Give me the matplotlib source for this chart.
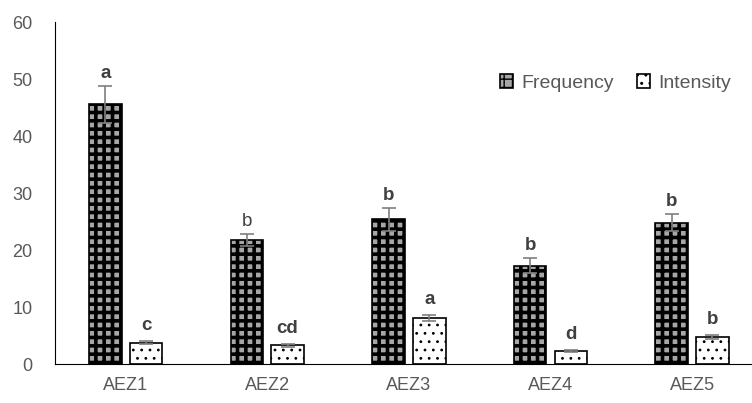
import matplotlib.pyplot as plt
import numpy as np

plt.rcParams['font.family'] = ['Liberation Sans', 'DejaVu Sans']

zones = ['AEZ1', 'AEZ2', 'AEZ3', 'AEZ4', 'AEZ5']
frequency = [45.6, 21.8, 25.4, 17.3, 24.8]
frequency_err = [3.2, 1.0, 2.0, 1.3, 1.5]
intensity = [3.8, 3.3, 8.1, 2.3, 4.8]
intensity_err = [0.3, 0.3, 0.5, 0.2, 0.4]
freq_letters = ['a', 'b', 'b', 'b', 'b']
freq_bold = [True, False, True, True, True]
int_letters = ['c', 'cd', 'a', 'd', 'b']

grey = '#595959'
fig = plt.figure(figsize=(7.52, 4.03), dpi=100)
# the plot area runs slightly past the right edge of the figure, as in the source
ax = fig.add_axes([0.073, 0.096, 0.9415, 0.849])

x = np.arange(len(zones))
w = 0.23
gap = 0.057
xf = x - w / 2 - gap / 2
xi = x + w / 2 + gap / 2

with plt.rc_context({'hatch.linewidth': 2.6}):
    bf = ax.bar(xf, frequency, w, color='#a6a6a6', edgecolor='black', hatch='++',
                linewidth=1.2)
with plt.rc_context({'hatch.linewidth': 0.8}):
    bi = ax.bar(xi, intensity, w, color='white', edgecolor='black', hatch='..',
                linewidth=1.2)

ax.errorbar(xf, frequency, yerr=frequency_err, fmt='none', ecolor='#7f7f7f',
            elinewidth=1.2, capsize=5, capthick=1.2)
ax.errorbar(xi, intensity, yerr=intensity_err, fmt='none', ecolor='#7f7f7f',
            elinewidth=1.2, capsize=5, capthick=1.2)

for i in range(len(zones)):
    ax.annotate(freq_letters[i], (xf[i], frequency[i] + frequency_err[i]),
                xytext=(0, 3), textcoords='offset points', ha='center', va='bottom',
                fontsize=13.5, color='#404040',
                fontweight='bold' if freq_bold[i] else 'normal')
    ax.annotate(int_letters[i], (xi[i], intensity[i] + intensity_err[i]),
                xytext=(0, 5), textcoords='offset points', ha='center', va='bottom',
                fontsize=13.5, color='#404040', fontweight='bold')

ax.set_xlim(-0.5, len(zones) - 0.5)
ax.set_ylim(0, 60)
ax.set_yticks(range(0, 61, 10))
ax.set_xticks(x)
ax.set_xticklabels(zones)
ax.tick_params(length=0, labelsize=13, colors=grey, pad=9)
ax.tick_params(axis='y', pad=16)
ax.spines['top'].set_visible(False)
ax.spines['right'].set_visible(False)

ax.legend([bf, bi], ['Frequency', 'Intensity'], loc='center right',
          bbox_to_anchor=(0.972, 0.794), bbox_transform=fig.transFigure,
          ncol=2, frameon=False, fontsize=14, labelcolor=grey,
          handlelength=0.7, handleheight=0.7, handletextpad=0.4,
          columnspacing=1.2, borderaxespad=0.0, borderpad=0.0)

fig.savefig('out.png', dpi=100)
